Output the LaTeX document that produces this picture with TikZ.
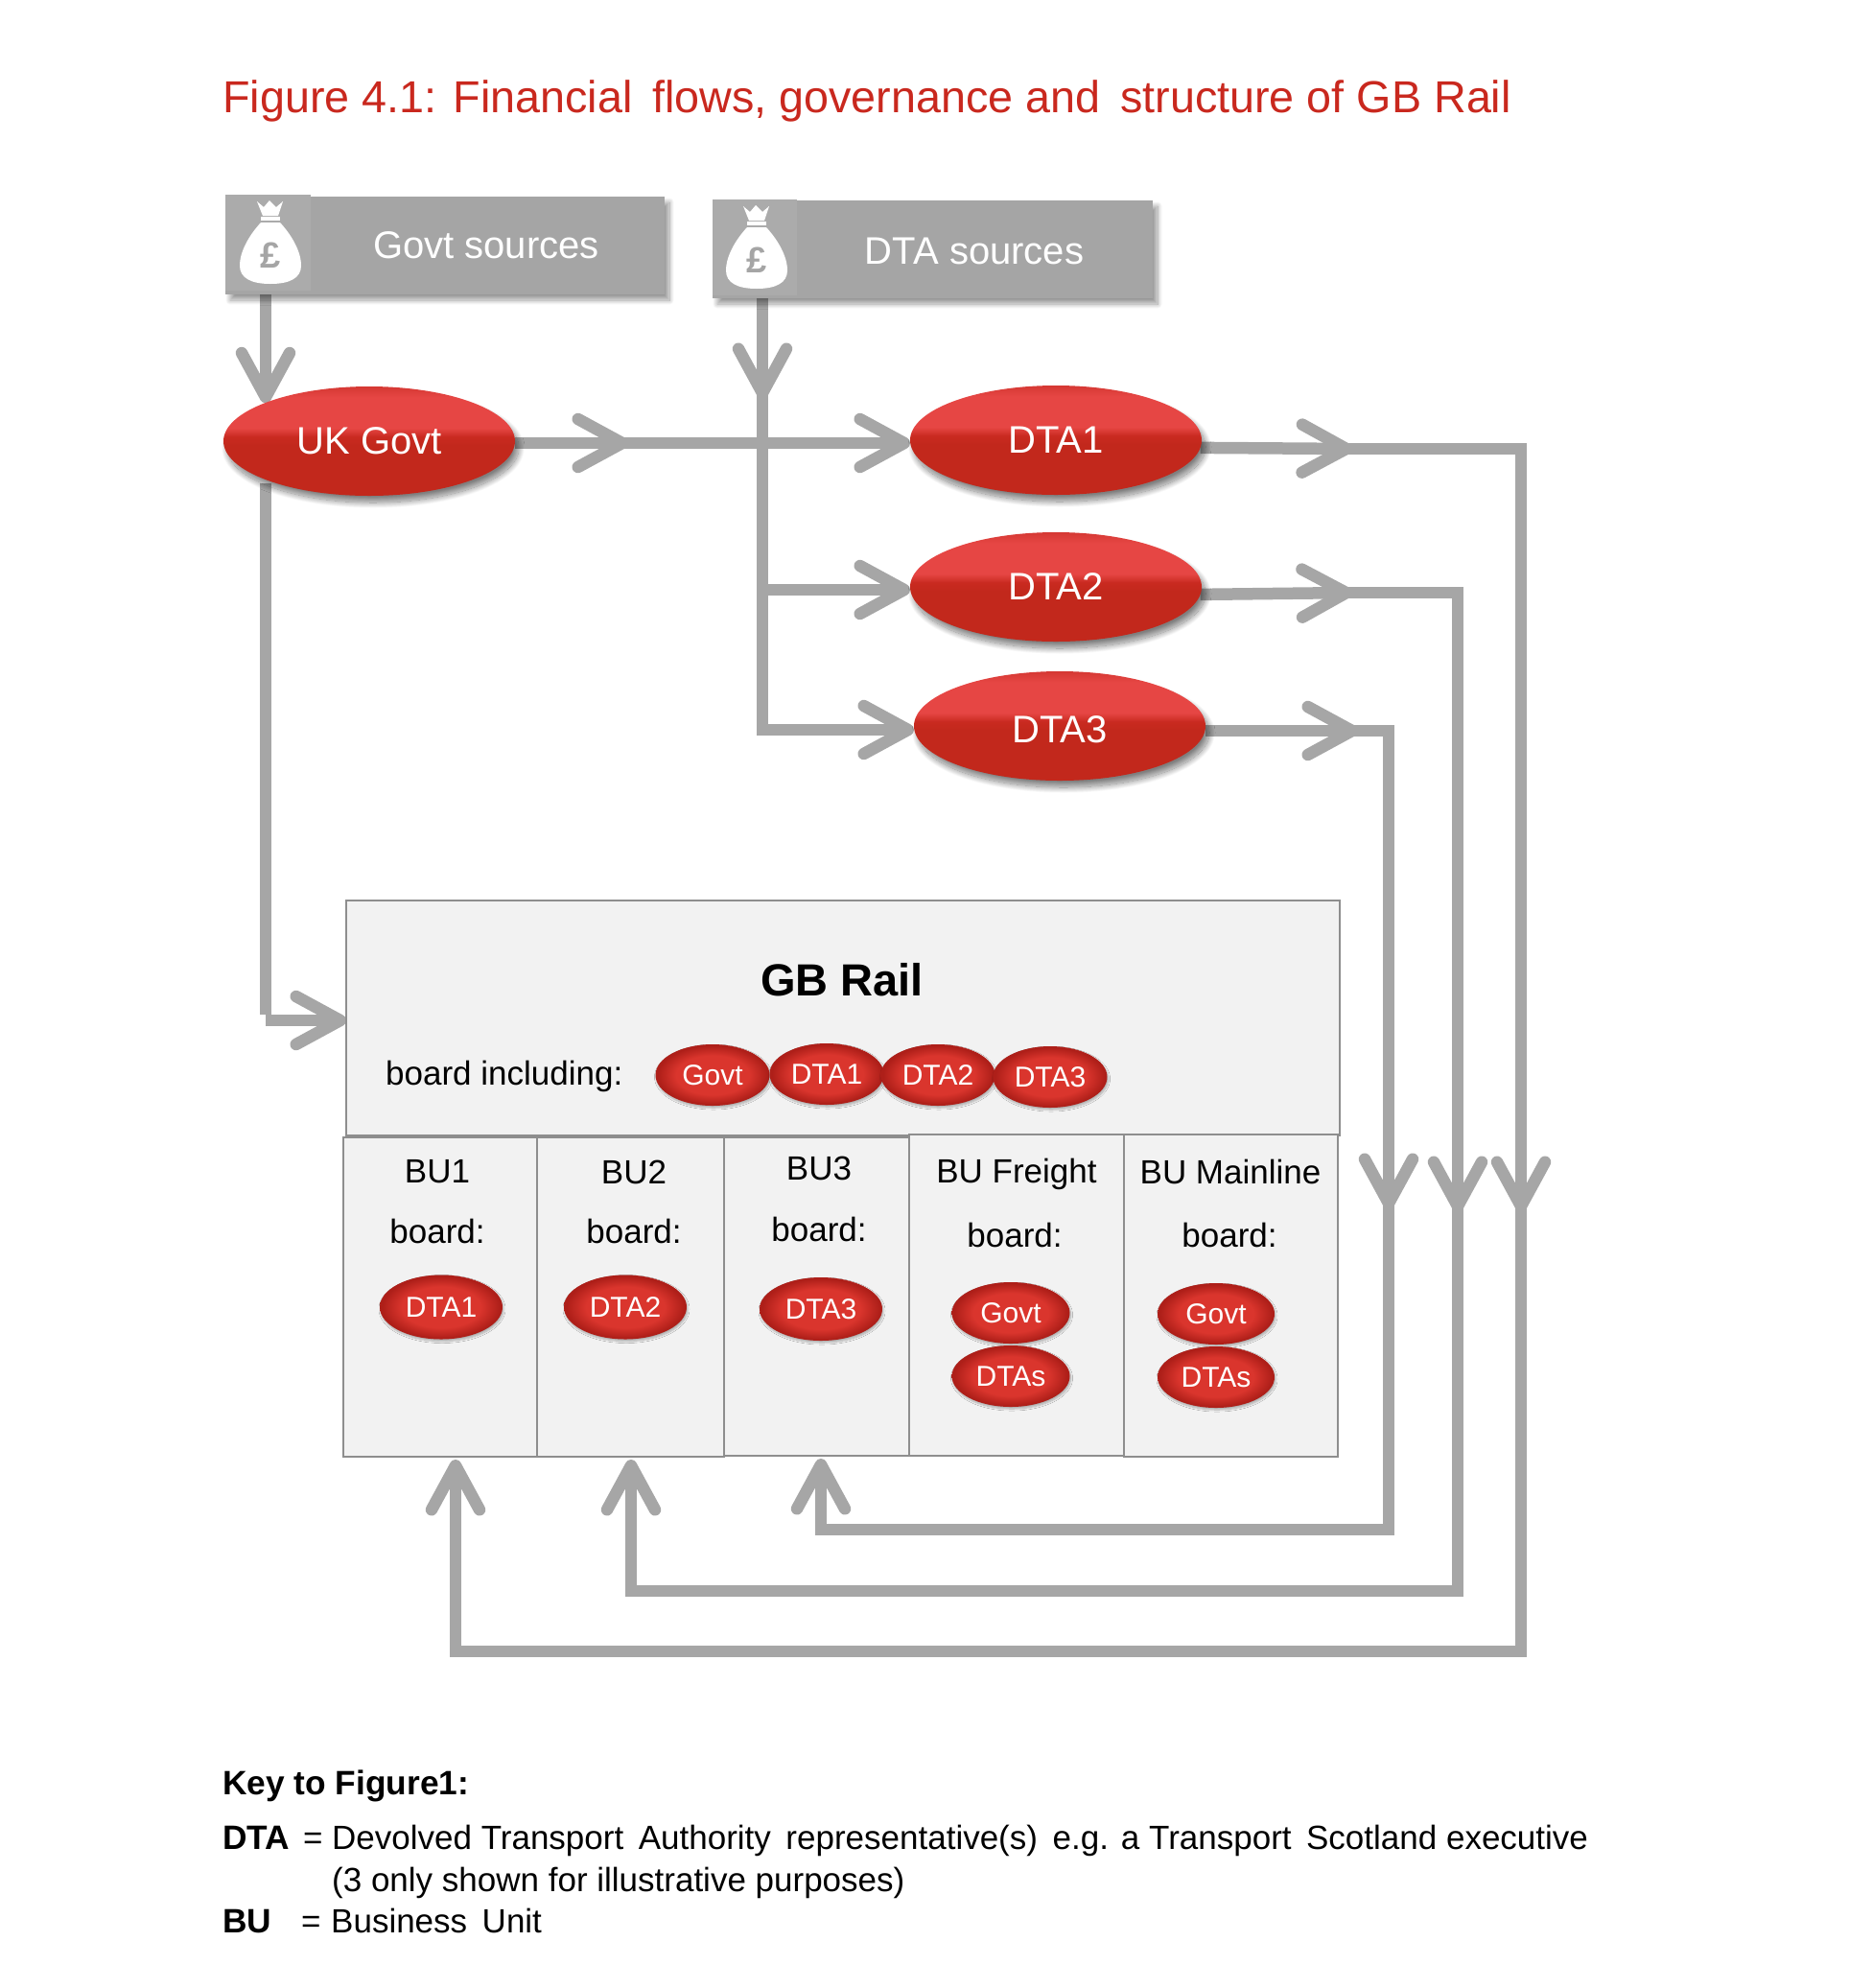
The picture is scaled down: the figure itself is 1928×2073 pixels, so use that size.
\documentclass[tikz,border=0pt]{standalone}
\usepackage{fontspec}
\setmainfont{Liberation Sans}
\usetikzlibrary{arrows.meta,shapes.geometric,shadows.blur,backgrounds,calc}
\definecolor{flowgray}{HTML}{A6A6A6}
\definecolor{boxgray}{HTML}{A5A5A5}
\definecolor{icongray}{HTML}{ABABAB}
\definecolor{panel}{HTML}{F2F2F2}
\definecolor{panelline}{HTML}{8E8E8E}
\definecolor{titlered}{HTML}{C9281E}
\definecolor{redlow}{HTML}{C2281C}
\definecolor{redmid}{HTML}{C92A20}
\definecolor{redhigh}{HTML}{E64644}
\definecolor{rededge}{HTML}{D53833}
\definecolor{balldark}{HTML}{AE1F19}
\definecolor{ballmid}{HTML}{DA352D}
\pgfdeclareverticalshading{gloss}{100bp}{color(0bp)=(redlow); color(25bp)=(redlow); color(48bp)=(redlow); color(52bp)=(redmid); color(56bp)=(redhigh); color(70bp)=(redhigh); color(75bp)=(rededge); color(100bp)=(rededge)}
\pgfdeclareradialshading{ballshade}{\pgfpoint{0bp}{0bp}}{color(0bp)=(ballmid); color(16bp)=(ballmid); color(24bp)=(balldark); color(50bp)=(balldark)}
\tikzset{
  x=1pt,y=-1pt,
  flow/.style={draw=flowgray,line width=12.5pt,line join=miter},
  flowtip/.style={flow,-{Straight Barb[length=46pt,width=50pt,round]}},
  bigpill/.style={ellipse,shading=gloss,minimum width=304pt,minimum height=114pt,inner sep=0pt,outer sep=0pt,text=white,
    font=\fontsize{40}{44}\selectfont,blur shadow={shadow xshift=4pt,shadow yshift=-7pt,shadow blur radius=6pt,shadow opacity=50,shadow blur steps=24}},
  smallpill/.style={ellipse,shading=ballshade,minimum width=#1,inner sep=0pt,outer sep=0pt,text=white,
    font=\fontsize{30}{34}\selectfont,blur shadow={shadow xshift=1pt,shadow yshift=-2pt,shadow blur radius=2pt,shadow opacity=30,shadow blur steps=8}},
  srcbox/.style={rectangle,fill=boxgray,inner sep=0pt,outer sep=0pt,blur shadow={shadow xshift=5pt,shadow yshift=-6pt,shadow blur radius=5pt,shadow opacity=40,shadow blur steps=20}},
  iconbox/.style={rectangle,fill=icongray,inner sep=0pt,outer sep=0pt},
  srctext/.style={text=white,font=\fontsize{40}{44}\selectfont,inner sep=0pt},
  panelbox/.style={rectangle,fill=panel,draw=panelline,line width=2pt,inner sep=0pt,outer sep=0pt},
  lbl/.style={text=black,font=\fontsize{35}{40}\selectfont,inner sep=0pt},
  keytxt/.style={text=black,font=\fontsize{35}{40}\selectfont,inner sep=0pt,anchor=base west},
  keybold/.style={text=black,font=\fontsize{35.3}{40}\selectfont\bfseries,inner sep=0pt,anchor=base west},
  pics/bag/.style={code={
    \fill[white] (-10,22) .. controls (-22,35) and (-32,52) .. (-32,67) .. controls (-32,80) and (-20,86) .. (0,86) .. controls (20,86) and (32,80) .. (32,67) .. controls (32,52) and (22,35) .. (10,22) -- cycle;
    \fill[white] (-10,16) rectangle (10,20);
    \fill[white] (-14,0) -- (-7,6) -- (-1,-1) -- (6,6) -- (13,0) -- (8,15) -- (-8,15) -- cycle;
    \node[text=boxgray,font=\fontsize{38}{40}\selectfont\bfseries,inner sep=0pt] (p) at (0,56) {£};
  }}
}
\begin{document}
\begin{tikzpicture}
\useasboundingbox (0,0) rectangle (1928,2073);
% title
\node[anchor=base west,inner sep=0pt,text=titlered,font=\fontsize{46.7}{50}\selectfont] (title) at (232,117) {Figure 4.1: Financial\, flows, governance and\, structure of GB Rail};
% source boxes
\node[srcbox,minimum width=458pt,minimum height=102pt] (govtbox) at (464,256) {};
\node[iconbox,minimum width=89pt,minimum height=100pt] (govticon) at (279.5,253) {};
\pic (bagA) at (282,210) {bag};
\node[srctext] (govttext) at (507,256) {Govt sources};
\node[srcbox,minimum width=459pt,minimum height=102pt] (dtabox) at (972.5,260) {};
\node[iconbox,minimum width=88pt,minimum height=100pt] (dtaicon) at (787,258) {};
\pic (bagB) at (789,215) {bag};
\node[srctext] (dtatext) at (1016,262) {DTA sources};
% authorities
\node[bigpill] (uk) at (385,460) {UK Govt};
\node[bigpill] (dta1) at (1101,459) {DTA1};
\node[bigpill] (dta2) at (1101,612) {DTA2};
\node[bigpill] (dta3) at (1105,757) {\raisebox{-3.5pt}[\height][\depth]{DTA3}};
% GB Rail panel
\node[panelbox,minimum width=1036pt,minimum height=245pt] (gb) at (879,1061.5) {};
\node[text=black,font=\fontsize{47}{50}\selectfont\bfseries,inner sep=0pt] (gbtitle) at (878,1022) {GB Rail};
\node[lbl,anchor=west] (boardinc) at (402,1122) {board including:};
\node[smallpill=119pt,minimum height=64pt] (bg) at (743,1121) {Govt};
\node[smallpill=119pt,minimum height=64pt] (b1) at (862,1120) {DTA1};
\node[smallpill=119pt,minimum height=64pt] (b2) at (978,1121) {DTA2};
\node[smallpill=119pt,minimum height=64pt] (b3) at (1095,1123) {DTA3};
% business units
\node[panelbox,minimum width=202pt,minimum height=333pt] (bu1) at (459,1352.5) {};
\node[panelbox,minimum width=195pt,minimum height=333pt] (bu2) at (657.5,1352.5) {};
\node[panelbox,minimum width=193pt,minimum height=332pt] (bu3) at (851.5,1352) {};
\node[panelbox,minimum width=224pt,minimum height=335pt] (bu4) at (1060,1350.5) {};
\node[panelbox,minimum width=223pt,minimum height=336pt] (bu5) at (1283.5,1351) {};
\node[lbl] (t1) at (456,1222) {BU1};
\node[lbl] (s1) at (456,1284) {board:};
\node[lbl] (t2) at (661,1222) {BU2};
\node[lbl] (s2) at (661,1284) {board:};
\node[lbl] (t3) at (854,1218) {BU3};
\node[lbl] (s3) at (854,1282) {board:};
\node[lbl] (t4) at (1060,1224) {BU Freight};
\node[lbl] (s4) at (1058,1288) {board:};
\node[lbl] (t5) at (1283,1222) {BU Mainline};
\node[lbl] (s5) at (1282,1288) {board:};
\node[smallpill=128pt,minimum height=67pt] (u1) at (460,1363) {DTA1};
\node[smallpill=128pt,minimum height=67pt] (u2) at (652,1363) {DTA2};
\node[smallpill=128pt,minimum height=66pt] (u3) at (856,1365) {DTA3};
\node[smallpill=123pt,minimum height=64pt] (u4g) at (1054,1369) {Govt};
\node[smallpill=123pt,minimum height=64pt] (u4d) at (1054,1435) {DTAs};
\node[smallpill=122pt,minimum height=64pt] (u5g) at (1268,1370) {Govt};
\node[smallpill=122pt,minimum height=64pt] (u5d) at (1268,1436) {DTAs};
% key
\node[keybold] (k0) at (232,1871) {Key to Figure1:};
\node[keybold] (k1) at (232,1928) {DTA};
\node[keytxt] (k1e) at (316,1928) {=};
\node[keytxt] (k1t) at (346,1928) {Devolved Transport\, Authority\, representative(s)\, e.g. a Transport\, Scotland executive};
\node[keytxt] (k2t) at (346,1972) {(3 only shown for illustrative purposes)};
\node[keybold] (k3) at (232,2015) {BU};
\node[keytxt] (k3e) at (314,2015) {=};
\node[keytxt] (k3t) at (345,2015) {Business\, Unit};
% junctions
\coordinate (hA) at (655,462);
\coordinate (vA) at (795,416);
\coordinate (j2) at (795,615);
\coordinate (j3) at (795,761);
\coordinate (ukdown) at (277,1064);
\coordinate (o1) at (1410,468);
\coordinate (o1c) at (1586,468);
\coordinate (o1d) at (1586,1264);
\coordinate (o1e) at (1586,1722);
\coordinate (o1f) at (475,1722);
\coordinate (o2) at (1410,618);
\coordinate (o2c) at (1520,618);
\coordinate (o2d) at (1520,1264);
\coordinate (o2e) at (1520,1659);
\coordinate (o2f) at (658,1659);
\coordinate (o3) at (1416,762);
\coordinate (o3c) at (1448,762);
\coordinate (o3d) at (1448,1261);
\coordinate (o3e) at (1448,1595);
\coordinate (o3f) at (856,1595);
\begin{scope}[on background layer]
\draw[flowtip] (govticon.south -| ukdown) -- (uk.160 -| ukdown);
\draw[flow] (uk.205 -| ukdown) -- ([yshift=6.25pt]ukdown);
\draw[flowtip] (ukdown) -- (ukdown -| gb.west);
\draw[flowtip] (dtaicon.south -| vA) -- (vA);
\draw[flow] ([yshift=20pt]vA) -- ([yshift=-6.25pt]j3);
\draw[flowtip] (uk.east |- hA) -- (hA);
\draw[flowtip] ([xshift=-20pt]hA) -- (dta1.west |- hA);
\draw[flowtip] (j2) -- (dta2.west |- j2);
\draw[flowtip] (j3) -- (dta3.west |- j3);
\draw[flowtip] (dta1.-3) -- (o1);
\draw[flowtip] ([xshift=-20pt]o1) -- (o1c) -- (o1d);
\draw[flowtip] ([yshift=20pt]o1d) -- (o1e) -- (o1f) -- ([yshift=-3pt]bu1.south -| o1f);
\draw[flowtip] (dta2.-3) -- (o2);
\draw[flowtip] ([xshift=-20pt]o2) -- (o2c) -- (o2d);
\draw[flowtip] ([yshift=20pt]o2d) -- (o2e) -- (o2f) -- ([yshift=-3pt]bu2.south -| o2f);
\draw[flowtip] (dta3.east |- o3) -- (o3);
\draw[flowtip] ([xshift=-20pt]o3) -- (o3c) -- (o3d);
\draw[flowtip] ([yshift=20pt]o3d) -- (o3e) -- (o3f) -- ([yshift=-3pt]bu3.south -| o3f);
\end{scope}
\end{tikzpicture}
\end{document}
